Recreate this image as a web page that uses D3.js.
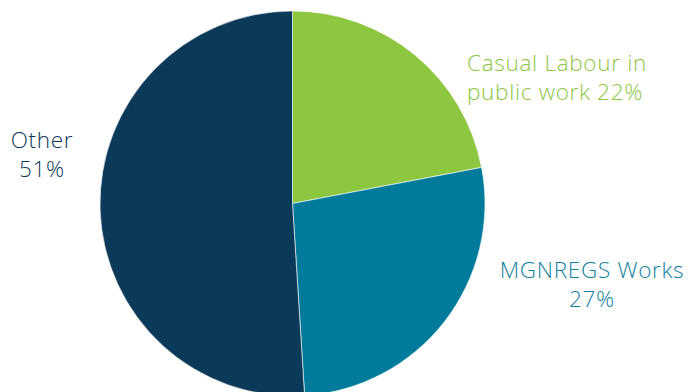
<!DOCTYPE html>
<html>
<head>
<meta charset="utf-8">
<script src="https://cdn.jsdelivr.net/npm/d3@7"></script>
<style>
  body { margin: 0; background: #fff; }
  svg { display: block; font-family: "Open Sans", Lato, sans-serif; }
</style>
</head>
<body>
<svg width="689" height="392"></svg>
<script>
const categories = ["Casual Labour in public work", "MGNREGS Works", "Other"];
const values = [22, 27, 51];
const colors = ["#8dc63f", "#007b9c", "#0b3a58"];
const labelColors = ["#8dc63f", "#127f9d", "#0d3a5a"];
const labelLines = [
  ["Casual Labour in", "public work 22%"],
  ["MGNREGS Works", "27%"],
  ["Other", "51%"]
];

let svg = d3.select("svg"),
    cx = 292.5,
    cy = 203.5,
    radius = 192.5;

let pie = d3.pie().sort(null).value(d => d);
let arc = d3.arc().innerRadius(0).outerRadius(radius);

let g = svg.append("g").attr("transform", `translate(${cx},${cy})`);

g.selectAll("path")
  .data(pie(values))
  .join("path")
    .attr("d", arc)
    .attr("fill", (d, i) => colors[i])
    .attr("stroke", "#fff")
    .attr("stroke-width", 0.6);

// label placement: x, anchor, first baseline
let labelPos = [
  {x: 467, y: 71, anchor: "start"},
  {x: 592, y: 278, anchor: "middle"},
  {x: 42, y: 148, anchor: "middle"}
];

labelLines.forEach((lines, i) => {
  let t = svg.append("text")
    .attr("x", labelPos[i].x)
    .attr("y", labelPos[i].y)
    .attr("text-anchor", labelPos[i].anchor)
    .attr("fill", labelColors[i])
    .attr("font-weight", 300)
    .attr("font-size", 22.5)
    .attr("letter-spacing", 0.7);
  lines.forEach((s, j) => {
    t.append("tspan")
      .attr("x", labelPos[i].x)
      .attr("dy", j == 0 ? 0 : 29)
      .text(s);
  });
});
</script>
</body>
</html>
